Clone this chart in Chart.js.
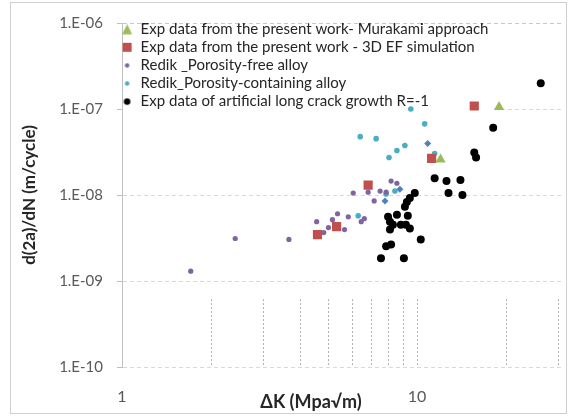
<!DOCTYPE html>
<html>
<head>
<meta charset="utf-8">
<script src="https://cdn.jsdelivr.net/npm/chart.js@4.4.0/dist/chart.umd.min.js"></script>
<style>
  body { margin: 0; background: #fff; }
  #wrap { position: relative; width: 568px; height: 417px; }
  #frame { position: absolute; left: 10px; top: 2px; width: 555px; height: 410px; border: 1px solid #d0d0d0; pointer-events: none; }
  #xtitle { position: absolute; left: 211px; width: 200px; top: 390px; text-align: center; font: bold 18px Lato, sans-serif; color: #262626; }
</style>
</head>
<body>
<div id="wrap">
  <canvas id="chart" width="568" height="417"></canvas>
  <div id="frame"></div>
  <div id="xtitle">ΔK (Mpa√m)</div>
</div>
<script>
'use strict';

// ***** DATA *****
const seriesNames = [
  'Exp data from the present work- Murakami approach',
  'Exp data from the present work - 3D EF simulation',
  'Redik _Porosity-free alloy',
  'Redik_Porosity-containing alloy',
  'Exp data of artificial long crack growth R=-1'
];

const murakamiK = [12.02, 18.98];
const murakamiRate = [2.59e-8, 1.054e-7];

const simK = [4.60, 5.34, 6.83, 11.21, 15.64];
const simRate = [3.47e-9, 4.29e-9, 1.30e-8, 2.66e-8, 1.083e-7];

const freeK = [1.71, 2.42, 3.68, 4.57, 4.83, 5.01, 5.17, 5.38, 5.68, 5.85, 6.47, 6.63, 6.08, 6.83, 7.16, 7.50, 7.86, 8.17, 8.55];
const freeRate = [1.30e-9, 3.12e-9, 3.04e-9, 4.89e-9, 3.66e-9, 4.18e-9, 5.16e-9, 6.05e-9, 3.96e-9, 5.58e-9, 4.89e-9, 5.30e-9, 1.054e-8, 1.08e-8, 8.53e-9, 1.11e-8, 1.08e-8, 1.45e-8, 1.37e-8];

const poroK = [6.42, 7.27, 8.04, 8.55, 9.10, 10.62, 9.53, 11.48, 6.32, 7.86, 8.42];
const poroRate = [4.77e-8, 4.52e-8, 2.73e-8, 3.29e-8, 3.76e-8, 6.72e-8, 1.0e-7, 3.04e-8, 5.74e-9, 1.027e-8, 1.11e-8];

// extra blue diamonds, no legend entry
const diamondK = [7.79, 8.75, 10.87];
const diamondRate = [8.53e-9, 1.17e-8, 3.96e-8];

const longK = [7.55, 9.03, 7.86, 8.17, 10.30, 8.10, 9.46, 8.10, 8.29, 8.82, 9.17, 7.98, 8.55, 9.31, 9.10, 9.24, 9.46, 9.83, 11.48, 12.59, 14.04, 12.79, 14.26, 15.64, 15.86, 18.13, 26.28];
const longRate = [1.84e-9, 1.84e-9, 2.53e-9, 2.66e-9, 3.04e-9, 3.96e-9, 4.07e-9, 4.89e-9, 4.52e-9, 4.52e-9, 4.52e-9, 5.58e-9, 5.89e-9, 5.74e-9, 7.28e-9, 8.31e-9, 9.24e-9, 1.054e-8, 1.57e-8, 1.45e-8, 1.49e-8, 1.054e-8, 1.0e-8, 3.12e-8, 2.73e-8, 6.05e-8, 1.99e-7];

const xTicks = [1, 10];
const yTicks = [1e-10, 1e-9, 1e-8, 1e-7, 1e-6];
const minorX = [2, 3, 4, 5, 6, 7, 8, 9, 10, 20, 30];

const colors = ['#9BBB59', '#C0504D', '#8064A2', '#4BACC6', '#000000', '#4F81BD'];

// **** HELPERS ****
function toPoints(xs, ys){
  return xs.map((x, i) => ({ x: x, y: ys[i] }));
}

function expLabel(v){
  let e = Math.round(Math.log10(v));
  let s = String(Math.abs(e)).padStart(2, '0');
  return '1.E' + (e < 0 ? '-' : '+') + s;
}

// small canvases used as legend markers (Excel draws them at their own sizes)
function makeMarker(kind, size, color){
  const c = document.createElement('canvas');
  c.width = 15;
  c.height = 11;
  const g = c.getContext('2d');
  const cx = 5.5;
  const cy = 5.5;
  g.fillStyle = color;
  g.beginPath();
  if (kind === 'triangle') {
    g.moveTo(cx, cy - size / 2);
    g.lineTo(cx + size / 2, cy + size / 2);
    g.lineTo(cx - size / 2, cy + size / 2);
    g.closePath();
  } else if (kind === 'rect') {
    g.rect(cx - size / 2, cy - size / 2, size, size);
  } else {
    g.arc(cx, cy, size / 2, 0, Math.PI * 2);
  }
  g.fill();
  return c;
}

const legendMarkers = [
  makeMarker('triangle', 10, colors[0]),
  makeMarker('rect', 9, colors[1]),
  makeMarker('circle', 4.5, colors[2]),
  makeMarker('circle', 4.5, colors[3]),
  makeMarker('circle', 6.5, colors[4])
];

// dotted minor verticals seen only in the bottom decade + white legend box
const extras = {
  id: 'extras',
  beforeDatasetsDraw(chart){
    const ctx = chart.ctx;
    const xs = chart.scales.x;
    const ys = chart.scales.y;
    const y0 = ys.getPixelForValue(6.16e-10);
    const y1 = ys.getPixelForValue(1e-10);
    ctx.save();
    ctx.strokeStyle = '#b0b0b0';
    ctx.lineWidth = 1;
    ctx.setLineDash([2, 2]);
    minorX.forEach(v => {
      if (v > xs.max) return;
      const px = Math.round(xs.getPixelForValue(v)) + 0.5;
      ctx.beginPath();
      ctx.moveTo(px, y0);
      ctx.lineTo(px, y1);
      ctx.stroke();
    });
    ctx.restore();

    const boxes = chart.legend.legendHitBoxes;
    if (boxes && boxes.length) {
      let right = 0;
      let bottom = 0;
      boxes.forEach(b => {
        right = Math.max(right, b.left + b.width);
        bottom = Math.max(bottom, b.top + b.height);
      });
      ctx.save();
      ctx.fillStyle = '#ffffff';
      ctx.fillRect(chart.chartArea.left + 1, chart.chartArea.top + 2, right - chart.chartArea.left + 2, bottom - chart.chartArea.top + 1);
      ctx.restore();
      chart.legend.draw();
    }
  }
};

// **** CHART ****
const datasets = [
  { label: seriesNames[0], data: toPoints(murakamiK, murakamiRate), pointStyle: 'triangle', pointRadius: 6 },
  { label: seriesNames[1], data: toPoints(simK, simRate), pointStyle: 'rect', pointRadius: 6.5 },
  { label: seriesNames[2], data: toPoints(freeK, freeRate), pointStyle: 'circle', pointRadius: 2.6 },
  { label: seriesNames[3], data: toPoints(poroK, poroRate), pointStyle: 'circle', pointRadius: 2.8 },
  { label: seriesNames[4], data: toPoints(longK, longRate), pointStyle: 'circle', pointRadius: 4 },
  { label: 'diamonds', data: toPoints(diamondK, diamondRate), pointStyle: 'rectRot', pointRadius: 3.5 }
];
datasets.forEach((d, i) => {
  d.backgroundColor = colors[i];
  d.borderColor = colors[i];
  d.borderWidth = 0;
});

Chart.defaults.font.family = 'Lato, sans-serif';

new Chart(document.getElementById('chart'), {
  type: 'scatter',
  data: { datasets: datasets },
  options: {
    responsive: false,
    animation: false,
    devicePixelRatio: 1,
    layout: { padding: { top: 19, right: 3, left: 0, bottom: 0 } },
    plugins: {
      tooltip: { enabled: false },
      legend: {
        position: 'chartArea',
        align: 'start',
        title: { display: true, text: '', font: { size: 10 }, padding: { top: 3.3, bottom: 3.3 } },
        labels: {
          usePointStyle: true,
          boxWidth: 8,
          boxHeight: 8,
          padding: 3.1,
          color: '#262626',
          font: { size: 15 },
          filter: item => item.datasetIndex < 5,
          generateLabels: chart => {
            const items = Chart.defaults.plugins.legend.labels.generateLabels(chart);
            items.forEach(it => {
              if (legendMarkers[it.datasetIndex]) it.pointStyle = legendMarkers[it.datasetIndex];
            });
            return items;
          }
        }
      }
    },
    scales: {
      x: {
        type: 'logarithmic',
        min: 1,
        max: 30.9,
        afterBuildTicks: s => { s.ticks = xTicks.map(v => ({ value: v })); },
        afterFit: s => { s.height = 50; },
        ticks: { padding: 20, color: '#595959', font: { size: 16 }, callback: v => String(v), maxRotation: 0, autoSkip: false },
        grid: { display: false, drawTicks: false },
        border: { display: false }
      },
      y: {
        type: 'logarithmic',
        min: 1e-10,
        max: 1e-6,
        afterBuildTicks: s => { s.ticks = yTicks.map(v => ({ value: v })); },
        afterFit: s => { s.width = 122; },
        ticks: { padding: 14, color: '#595959', font: { size: 15 }, callback: v => expLabel(v), autoSkip: false },
        grid: {
          color: ctx => (ctx.tick && ctx.tick.value === 1e-6) ? '#c8c8c8' : '#d9d9d9',
          tickLength: 5,
          tickColor: '#bfbfbf'
        },
        border: { display: true, color: '#bfbfbf', dash: [4, 3] },
        title: { display: true, text: 'd(2a)/dN (m/cycle)', color: '#262626', font: { size: 17, weight: 'bold' }, padding: { top: 19, bottom: 0 } }
      }
    }
  },
  plugins: [extras]
});
</script>
</body>
</html>
